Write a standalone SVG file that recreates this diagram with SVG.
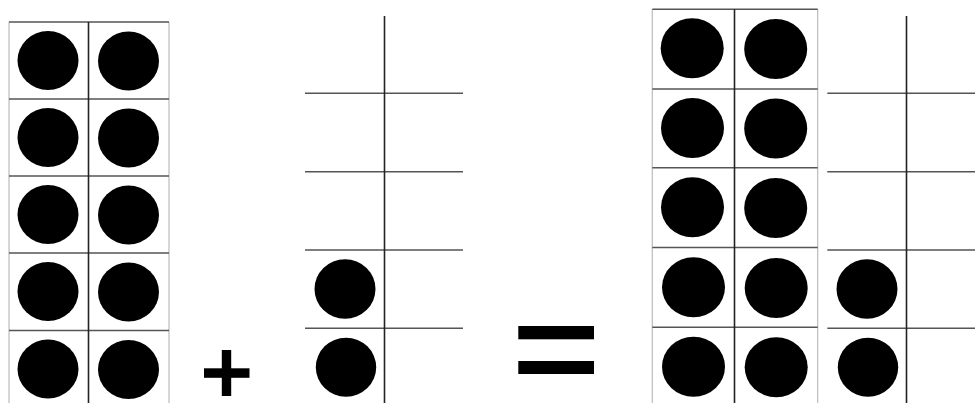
<svg xmlns="http://www.w3.org/2000/svg" width="975" height="403" viewBox="0 0 975 403">
<style>
.dot{fill:#000}
.h{stroke:#555;stroke-width:1.6}
.v{stroke:#222;stroke-width:1.6}
.edge{stroke:#bbb;stroke-width:1.2}
.sym{fill:#000}
</style>
<rect width="975" height="403" fill="#fff"/>
<g id="ten-frame-10">
<line class="edge" x1="9" y1="22" x2="9" y2="403"/>
<line class="edge" x1="169" y1="22" x2="169" y2="403"/>
<line class="h" x1="9" y1="22" x2="169" y2="22"/>
<line class="h" x1="9" y1="99" x2="169" y2="99"/>
<line class="h" x1="9" y1="176" x2="169" y2="176"/>
<line class="h" x1="9" y1="253" x2="169" y2="253"/>
<line class="h" x1="9" y1="330.5" x2="169" y2="330.5"/>
<line class="v" x1="88.5" y1="22" x2="88.5" y2="403"/>
<ellipse class="dot" cx="48" cy="60.5" rx="30.5" ry="29.5"/>
<ellipse class="dot" cx="128.5" cy="61" rx="30.5" ry="29.5"/>
<ellipse class="dot" cx="48" cy="137.5" rx="30.5" ry="29.5"/>
<ellipse class="dot" cx="128.5" cy="138" rx="30.5" ry="29.5"/>
<ellipse class="dot" cx="48" cy="214.5" rx="30.5" ry="29.5"/>
<ellipse class="dot" cx="128.5" cy="215" rx="30.5" ry="29.5"/>
<ellipse class="dot" cx="48" cy="291.5" rx="30.5" ry="29.5"/>
<ellipse class="dot" cx="128.5" cy="292" rx="30.5" ry="29.5"/>
<ellipse class="dot" cx="48" cy="369" rx="30.5" ry="29.5"/>
<ellipse class="dot" cx="128.5" cy="369.5" rx="30.5" ry="29.5"/>
</g>
<g id="plus">
<rect class="sym" x="204" y="368.3" width="45.5" height="9.5"/>
<rect class="sym" x="221.8" y="350" width="9.4" height="46"/>
</g>
<g id="ten-frame-2">
<line class="h" x1="305" y1="93.3" x2="463" y2="93.3"/>
<line class="h" x1="305" y1="171.7" x2="463" y2="171.7"/>
<line class="h" x1="305" y1="250" x2="463" y2="250"/>
<line class="h" x1="305" y1="328.3" x2="463" y2="328.3"/>
<line class="v" x1="384.5" y1="16" x2="384.5" y2="403"/>
<ellipse class="dot" cx="345" cy="289" rx="30.5" ry="29.8"/>
<ellipse class="dot" cx="346" cy="367.2" rx="30.2" ry="29.5"/>
</g>
<g id="equals">
<rect class="sym" x="518.3" y="326" width="75.7" height="13.3"/>
<rect class="sym" x="518.3" y="361" width="75.7" height="13"/>
</g>
<g id="ten-frame-result-10">
<line class="edge" x1="652.3" y1="9.3" x2="652.3" y2="403"/>
<line class="edge" x1="817.7" y1="9.3" x2="817.7" y2="403"/>
<line class="h" x1="652.3" y1="9.3" x2="817.7" y2="9.3"/>
<line class="h" x1="652.3" y1="89" x2="817.7" y2="89"/>
<line class="h" x1="652.3" y1="167.7" x2="817.7" y2="167.7"/>
<line class="h" x1="652.3" y1="247.5" x2="817.7" y2="247.5"/>
<line class="h" x1="652.3" y1="327.3" x2="817.7" y2="327.3"/>
<line class="v" x1="734.5" y1="9.3" x2="734.5" y2="403"/>
<ellipse class="dot" cx="692.2" cy="48.3" rx="31.5" ry="30"/>
<ellipse class="dot" cx="775.7" cy="49" rx="31.5" ry="30"/>
<ellipse class="dot" cx="692.5" cy="128" rx="31.5" ry="30"/>
<ellipse class="dot" cx="775.7" cy="128.5" rx="31.5" ry="30"/>
<ellipse class="dot" cx="692.5" cy="207.3" rx="31.5" ry="30"/>
<ellipse class="dot" cx="775.7" cy="208" rx="31.5" ry="30"/>
<ellipse class="dot" cx="693.5" cy="287.3" rx="31.5" ry="30"/>
<ellipse class="dot" cx="776.2" cy="288" rx="31.5" ry="30"/>
<ellipse class="dot" cx="693.5" cy="366.7" rx="31.5" ry="30"/>
<ellipse class="dot" cx="776.2" cy="367.2" rx="31.5" ry="30"/>
</g>
<g id="ten-frame-result-2">
<line class="h" x1="827.3" y1="93.3" x2="975" y2="93.3"/>
<line class="h" x1="827.3" y1="171.7" x2="975" y2="171.7"/>
<line class="h" x1="827.3" y1="250" x2="975" y2="250"/>
<line class="h" x1="827.3" y1="328.3" x2="975" y2="328.3"/>
<line class="v" x1="906.5" y1="16" x2="906.5" y2="403"/>
<ellipse class="dot" cx="867" cy="289" rx="30.5" ry="29.8"/>
<ellipse class="dot" cx="868" cy="367.2" rx="30.2" ry="29.5"/>
</g>
<g id="connectors"/>
</svg>
